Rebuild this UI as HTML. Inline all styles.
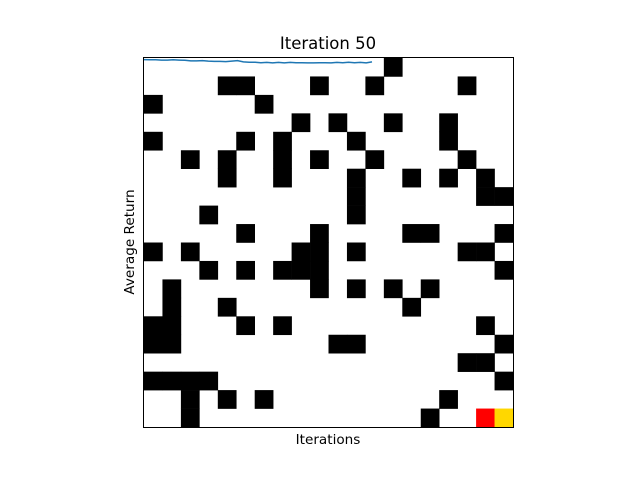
<!DOCTYPE html>
<html><head><meta charset="utf-8"><style>
body{margin:0;background:#fff;}
svg{display:block;font-family:"DejaVu Sans","Liberation Sans",sans-serif;}
</style></head><body>
<svg id="chart" width="640" height="480">
<rect width="640" height="480" fill="#fff"/>
<g id="grid"></g>
<polyline id="line" fill="none" stroke="#1f77b4" stroke-width="1.5"/>
<rect x="143.5" y="57.5" width="370" height="370" fill="none" stroke="#000" stroke-width="1"/>
<text x="328" y="49" font-size="16.5" text-anchor="middle">Iteration 50</text>
<text x="328" y="444" font-size="13.6" text-anchor="middle">Iterations</text>
<text x="0" y="0" font-size="13.6" text-anchor="middle" transform="translate(134,242) rotate(-90)">Average Return</text>
</svg>
<script>
const walls = [
[13],
[4,5,9,12,17],
[0,6],
[8,10,13,16],
[0,5,7,11,16],
[2,4,7,9,12,17],
[4,7,11,14,16,18],
[11,18,19],
[3,11],
[5,9,14,15,19],
[0,2,8,9,11,17,18],
[3,5,7,8,9,19],
[1,9,11,13,15],
[1,4,14],
[0,1,5,7,18],
[0,1,10,11,19],
[17,18],
[0,1,2,3,19],
[2,4,6,16],
[2,15]
];
const agentCell = [19,18];
const goalCell = [19,19];
const returns = [-0.6,-0.7,-0.7,-0.8,-0.8,-0.7,-0.8,-0.9,-1.1,-1.1,-1.0,-1.2,-1.3,-1.3,-1.4,-1.2,-1.0,-1.5,-1.6,-1.6,-1.8,-1.7,-1.9,-1.7,-1.9,-1.7,-1.8,-1.8,-1.9,-1.9,-1.8,-1.8,-1.9,-1.7,-1.8,-1.6,-1.8,-1.7,-1.9,-1.5];
const X0=144,Y0=58,S=369,N=20,C=S/N;
const ns="http://www.w3.org/2000/svg";
const g=document.getElementById('grid');
function cx(c){return X0+c*C;}
function cy(r){return Y0+r*C;}
function cell(r,c,fill,name){
  const e=document.createElementNS(ns,'rect');
  e.setAttribute('x',cx(c));e.setAttribute('y',cy(r));
  e.setAttribute('width',C+0.3);e.setAttribute('height',C+0.3);
  e.setAttribute('fill',fill);
  
  
  g.appendChild(e);
}
walls.forEach((row,r)=>row.forEach(c=>cell(r,c,'#000','wall-cell')));
cell(agentCell[0],agentCell[1],'#ff0000','agent-cell');
cell(goalCell[0],goalCell[1],'#ffd700','goal-cell');
const xEnd=372;
function lx(i){return X0+i*(xEnd-X0)/(returns.length-1);}
function ly(v){return Y0-v*2.6;}
document.getElementById('line').setAttribute('points',returns.map((v,i)=>lx(i).toFixed(1)+','+ly(v).toFixed(1)).join(' '));
</script>
</body></html>
